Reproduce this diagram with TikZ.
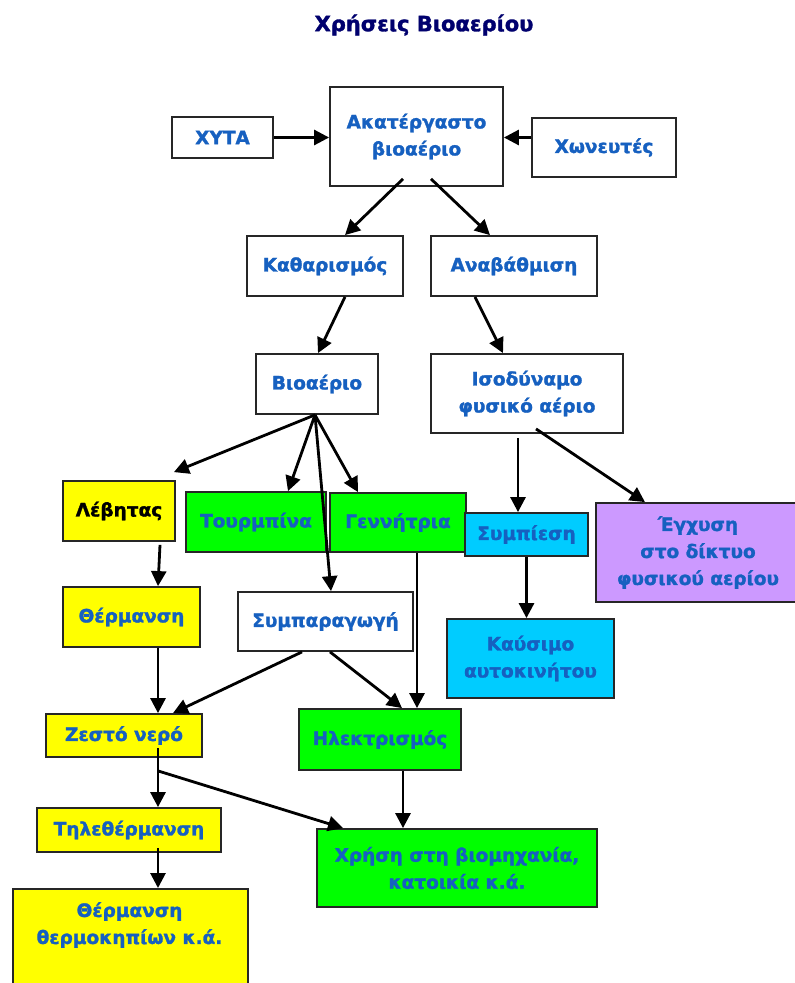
\documentclass[tikz,border=0pt]{standalone}
\usepackage{fontspec}
\setmainfont{DejaVu Sans}[BoldFeatures={FakeBold=1.5}]
\usetikzlibrary{arrows.meta}
\definecolor{txtblue}{RGB}{22,96,192}
\definecolor{navy}{RGB}{0,0,110}
\definecolor{boxyellow}{RGB}{255,255,0}
\definecolor{boxgreen}{RGB}{0,255,0}
\definecolor{boxcyan}{RGB}{0,204,255}
\definecolor{boxpurple}{RGB}{204,153,255}
\begin{document}
\begin{tikzpicture}[x=1pt,y=-1pt,
 lbl/.style={align=center, font=\fontsize{18.5}{27}\selectfont\bfseries, text=txtblue},
 box/.style={lbl, draw=black!85, line width=1.8pt, inner sep=0pt},
 sz/.style 2 args={minimum width=#1pt, minimum height=#2pt},
 arr/.style={line width=2.8pt, -{Triangle[length=15pt,width=15pt]}},
]
\useasboundingbox (0,0) rectangle (795,983);
\fill[white] (0,0) rectangle (795,983);
\clip (0,0) rectangle (795,983);

\node[font=\fontsize{21}{25}\selectfont\bfseries, text=navy] (title) at (424,25) {Χρήσεις Βιοαερίου};

\node[box, sz={101}{41}] (xyta) at (222.5,137.5) {ΧΥΤΑ};
\node[box, sz={173}{99}] (raw) at (416.5,136.5) {Ακατέργαστο\\βιοαέριο};
\node[box, sz={144}{59}] (chon) at (604,147.5) {Χωνευτές};
\node[box, sz={156}{60}] (kath) at (325,266) {Καθαρισμός};
\node[box, sz={166}{60}] (anav) at (514,266) {Αναβάθμιση};
\node[box, sz={122}{60}] (bio) at (317,384) {Βιοαέριο};
\node[box, sz={192}{79}] (iso) at (527,393.5) {Ισοδύναμο\\φυσικό αέριο};
\node[box, fill=boxyellow, text=black, sz={112}{60}] (lev) at (119,511) {Λέβητας};
\node[box, fill=boxgreen, sz={140}{60}] (tour) at (256,522) {Τουρμπίνα};
\node[box, fill=boxgreen, sz={136}{59}] (genn) at (398,522.5) {Γεννήτρια};
\node[box, fill=boxcyan, sz={123}{43}] (symp) at (526.5,534.5) {Συμπίεση};
\node[box, fill=boxpurple, sz={204}{99}] (egx) at (698,552.5) {Έγχυση\\στο δίκτυο\\φυσικού αερίου};
\node[box, fill=boxcyan, sz={167}{79}] (kaus) at (530.5,658.5) {Καύσιμο\\αυτοκινήτου};
\node[box, fill=boxyellow, sz={137}{60}] (therm) at (131.5,617) {Θέρμανση};
\node[box, fill=white, sz={175}{59}] (sympar) at (325.5,621.5) {Συμπαραγωγή};
\node[box, fill=boxyellow, sz={156}{43}] (zest) at (124,735.5) {Ζεστό νερό};
\node[box, fill=boxgreen, sz={162}{61}] (ilek) at (380,739.5) {Ηλεκτρισμός};
\node[box, fill=boxyellow, sz={184}{44}] (tile) at (129,830) {Τηλεθέρμανση};
\node[box, fill=boxyellow, sz={235}{120}, anchor=north west] (therkbox) at (12,888) {};
\node[lbl] (therk) at (129.5,925) {Θέρμανση\\θερμοκηπίων κ.ά.};
\node[box, fill=boxgreen, sz={280}{78}] (xrisi) at (457,868) {Χρήση στη βιομηχανία,\\κατοικία κ.ά.};

\draw[arr] (xyta.east) -- (xyta.east -| raw.west);
\draw[arr] ([yshift=10pt]chon.west) -- ([yshift=10pt]chon.west -| raw.east);
\draw[arr] ([xshift=-13.5pt,yshift=8pt]raw.south) -- ([xshift=20pt]kath.north);
\draw[arr] ([xshift=14.5pt,yshift=8pt]raw.south) -- ([xshift=-24pt]anav.north);
\draw[arr] ([xshift=20pt]kath.south) -- ([xshift=1pt]bio.north);
\draw[arr] ([xshift=-39pt]anav.south) -- ([xshift=-24pt]iso.north);
\draw[arr] ([xshift=-2pt]bio.south) -- ([xshift=-2pt,yshift=8pt]lev.north east);
\draw[arr] ([xshift=-2pt]bio.south) -- ([xshift=32pt]tour.north);
\draw[arr] ([xshift=-2pt]bio.south) -- ([xshift=-40pt]genn.north);
\draw[arr] ([xshift=-2pt]bio.south) -- ([xshift=5.5pt]sympar.north);
\draw[arr] ([xshift=19pt]genn.south) -- ([xshift=37pt]ilek.north);
\draw[arr] ([xshift=-9pt,yshift=-4pt]iso.south) -- ([xshift=-8.5pt]symp.north);
\draw[arr] ([xshift=9pt,yshift=5pt]iso.south) -- ([xshift=-53pt]egx.north);
\draw[arr] (symp.south) -- (symp.south |- kaus.north);
\draw[arr] ([xshift=41pt,yshift=-3pt]lev.south) -- ([xshift=26.5pt]therm.north);
\draw[arr] ([xshift=26.5pt]therm.south) -- ([xshift=34pt]zest.north);
\draw[arr] ([xshift=-23.5pt]sympar.south) -- ([xshift=49pt]zest.north);
\draw[arr] ([xshift=4.5pt]sympar.south) -- ([xshift=22pt]ilek.north);
\draw[arr] ([xshift=34pt,yshift=10pt]zest.south) -- ([xshift=29pt]tile.north);
\coordinate (zb) at ([xshift=34pt,yshift=-13pt]zest.south);
\draw[arr] (zb) -- ([xshift=-114pt]xrisi.north);
\draw[arr] ([xshift=23pt]ilek.south) -- ([xshift=-54pt]xrisi.north);
\draw[arr] ([xshift=29pt,yshift=5pt]tile.south) -- ([xshift=146pt]therkbox.north west);
\end{tikzpicture}
\end{document}
